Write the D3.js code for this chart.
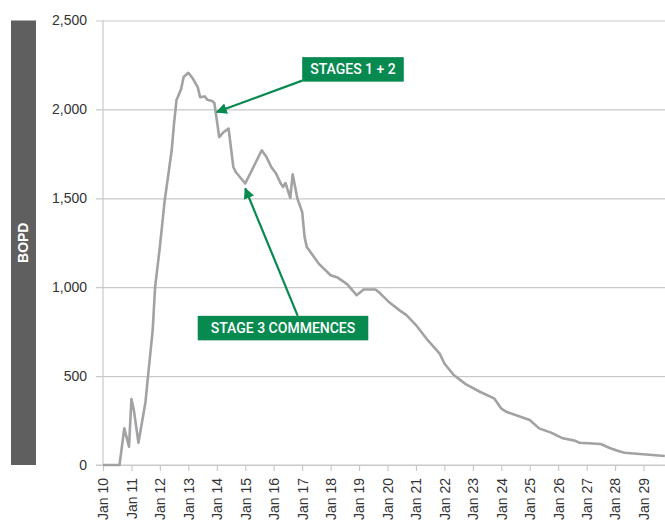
<!DOCTYPE html>
<html>
<head>
<meta charset="utf-8">
<script src="https://cdn.jsdelivr.net/npm/d3@7"></script>
<style>
  body { margin: 0; background: #fff; }
  svg { display: block; }
</style>
</head>
<body>
<svg id="chart" width="665" height="522"></svg>
<script>
/******************** Data ********************/
// months since Jan 2010
const monthIndex = [0, 7, 9, 11, 12, 13, 15, 18, 19, 21, 22, 24, 26, 29, 30, 31, 33, 34, 36, 38, 40, 41, 43, 44, 46, 47, 49, 51, 53, 54, 55, 56, 60, 67, 69, 71, 73, 75, 76, 77, 78, 79, 80, 82, 84, 85, 86, 88, 91, 96, 99, 103, 107, 110, 115, 117, 121, 125, 128, 132, 137, 142, 144, 148, 153, 159, 165, 168, 170, 180, 184, 189, 194, 199, 201, 210, 214, 217, 220, 237];
const bopd = [0, 0, 206, 103, 371, 309, 125, 356, 496, 758, 1002, 1226, 1480, 1770, 1920, 2051, 2116, 2182, 2206, 2172, 2125, 2069, 2073, 2054, 2047, 2036, 1844, 1873, 1892, 1788, 1676, 1648, 1583, 1770, 1732, 1676, 1639, 1583, 1564, 1586, 1545, 1502, 1635, 1498, 1423, 1283, 1226, 1189, 1133, 1067, 1054, 1017, 955, 987, 987, 964, 912, 871, 843, 787, 702, 627, 571, 506, 455, 412, 375, 318, 300, 253, 206, 182, 150, 137, 125, 118, 94, 80, 69, 51];
const yTicks = [0, 500, 1000, 1500, 2000, 2500];
const tickYears = d3.range(2010, 2030);
const annotations = [
  { label: "STAGES 1 + 2", boxMonth: 84, boxValue: 2225, tipMonth: 48, tipValue: 1985, pad: 8, fromDx: 0, fromSide: "left" },
  { label: "STAGE 3 COMMENCES", boxMonth: 40, boxValue: 770, tipMonth: 60, tipValue: 1555, pad: 13, fromDx: 100, fromSide: "top" },
];

const monthDate = (m) => new Date(2010 + Math.floor(m / 12), m % 12, 1);
const series = monthIndex.map((m, i) => ({ date: monthDate(m), value: bopd[i] }));

/******************** Scales ********************/
const width = 665;
const height = 522;
const plotLeft = 103;
const plotTop = 20.5;
const plotBottom = 465;
const svg = d3.select("svg#chart");

const scaleX = d3
  .scaleTime()
  .domain([new Date(2010, 0, 1), new Date(2030, 0, 1)])
  .range([plotLeft, plotLeft + 20 * 28.45]);
const scaleY = d3.scaleLinear().domain([0, 2500]).range([plotBottom, plotTop]);

const green = "#078a50";
const gridColor = "#c9c9cb";
const textColor = "#333";

/******************** Y label bar ********************/
svg.append("rect").attr("x", 11).attr("y", plotTop).attr("width", 25).attr("height", plotBottom - plotTop).attr("fill", "#5f5f60");
svg
  .append("text")
  .text("BOPD")
  .attr("transform", `translate(28,${(plotTop + plotBottom) / 2}) rotate(-90)`)
  .attr("text-anchor", "middle")
  .style("font-family", "'Liberation Sans', Arial, sans-serif")
  .style("font-weight", "bold")
  .style("font-size", "14px")
  .attr("fill", "#fff");

/******************** Axes ********************/
const yAxis = d3
  .axisLeft(scaleY)
  .tickValues(yTicks)
  .tickSize(-(width - 96))
  .tickPadding(9)
  .tickFormat(d3.format(","));
const yG = svg.append("g").attr("class", "y-axis").attr("transform", `translate(96,0)`).call(yAxis);
yG.select(".domain").remove();
yG.selectAll(".tick line").attr("stroke", gridColor).attr("stroke-width", 1.2);
yG.selectAll(".tick text")
  .attr("x", -9)
  .attr("fill", textColor)
  .style("font-family", "'Liberation Sans', Arial, sans-serif")
  .style("font-size", "14px");

// left vertical line
svg.append("line").attr("x1", plotLeft).attr("x2", plotLeft).attr("y1", plotTop).attr("y2", plotBottom).attr("stroke", gridColor).attr("stroke-width", 1.2);

const xAxis = d3
  .axisBottom(scaleX)
  .tickValues(tickYears.map((y) => new Date(y, 0, 1)))
  .tickSize(6)
  .tickSizeOuter(0)
  .tickFormat((d) => `Jan ${d3.timeFormat("%y")(d)}`);
const xG = svg.append("g").attr("class", "x-axis").attr("transform", `translate(0,${plotBottom})`).call(xAxis);
xG.select(".domain").attr("stroke", gridColor).attr("stroke-width", 1.2).attr("d", `M${96},0H${width}`);
xG.selectAll(".tick line").attr("stroke", gridColor).attr("stroke-width", 1.2);
xG.selectAll(".tick text")
  .attr("fill", textColor)
  .attr("text-anchor", "end")
  .attr("transform", "rotate(-90)")
  .attr("x", -13)
  .attr("y", 0)
  .attr("dy", "0.35em")
  .style("font-family", "'Liberation Sans', Arial, sans-serif")
  .style("font-size", "14px");

/******************** Line ********************/
const line = d3
  .line()
  .x((d) => scaleX(d.date))
  .y((d) => scaleY(d.value));
svg
  .append("path")
  .datum(series)
  .attr("d", line)
  .attr("fill", "none")
  .attr("stroke", "#a2a2a5")
  .attr("stroke-width", 2.6)
  .attr("stroke-linejoin", "round");

/******************** Annotations ********************/
const defs = svg.append("defs");
defs
  .append("marker")
  .attr("id", "arrow")
  .attr("viewBox", "0 0 10 10")
  .attr("refX", 9)
  .attr("refY", 5)
  .attr("markerWidth", 5)
  .attr("markerHeight", 5)
  .attr("orient", "auto")
  .append("path")
  .attr("d", "M0,0L10,5L0,10Z")
  .attr("fill", green);

annotations.forEach((a) => {
  const g = svg.append("g").attr("class", "annotation");
  const bx = scaleX(monthDate(a.boxMonth));
  const cy = scaleY(a.boxValue);
  const txt = g
    .append("text")
    .text(a.label)
    .attr("x", bx + a.pad)
    .attr("y", cy)
    .attr("dy", "0.36em")
    .attr("fill", "#fff")
    .style("font-family", "Roboto, sans-serif")
    .style("font-weight", "500")
    .style("font-size", "14px");
  const tw = txt.node().getComputedTextLength();
  const bh = 24.5;
  g.insert("rect", "text")
    .attr("x", bx)
    .attr("y", cy - bh / 2)
    .attr("width", tw + 2 * a.pad)
    .attr("height", bh)
    .attr("fill", green);
  const fx = a.fromSide === "left" ? bx : bx + a.fromDx;
  const fy = a.fromSide === "left" ? cy + bh / 2 - 1 : cy - bh / 2;
  g.insert("line", "rect")
    .attr("x1", fx)
    .attr("y1", fy)
    .attr("x2", scaleX(monthDate(a.tipMonth)))
    .attr("y2", scaleY(a.tipValue))
    .attr("stroke", green)
    .attr("stroke-width", 2.2)
    .attr("marker-end", "url(#arrow)");
});
</script>
</body>
</html>
